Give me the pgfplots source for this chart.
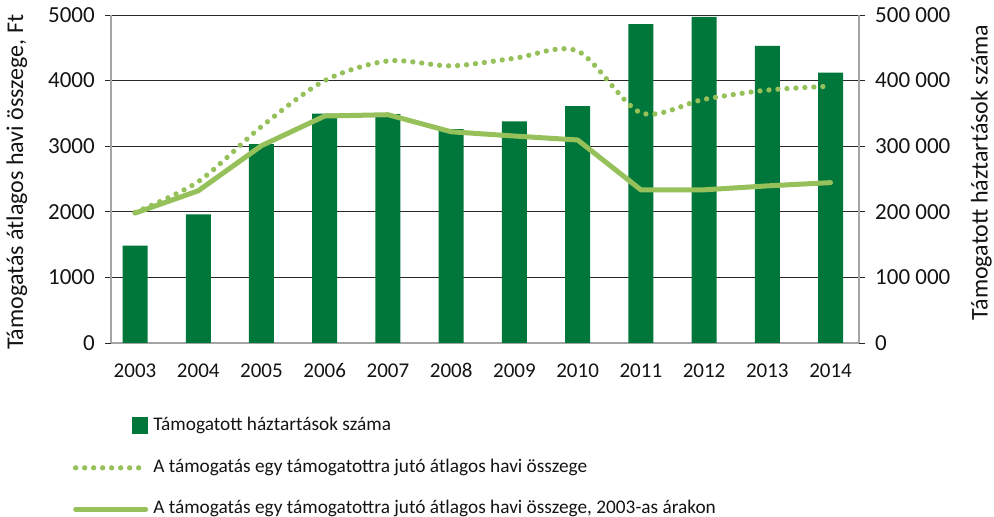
\documentclass[border=0pt]{standalone}
\usepackage{fontspec}
\setmainfont{Carlito}
\usepackage{pgfplots}
\pgfplotsset{compat=1.18}
\definecolor{barcol}{RGB}{0,119,58}
\definecolor{linecol}{RGB}{150,192,90}
\definecolor{gridcol}{RGB}{40,40,40}
\definecolor{axcol}{RGB}{165,165,165}
\definecolor{txtcol}{RGB}{20,20,20}
\begin{document}
\begin{tikzpicture}
\useasboundingbox (0,0) rectangle (994pt,517pt);
\begin{axis}[
  at={(111pt,174pt)}, anchor=south west, scale only axis,
  width=748pt, height=328pt,
  xmin=-0.38, xmax=11.45, ymin=0, ymax=500000,
  scaled y ticks=false,
  axis x line*=bottom, axis y line*=right,
  axis line style={axcol, line width=1.2pt, -},
  ymajorgrids, grid style={gridcol, line width=0.9pt},
  ytick={0,100000,200000,300000,400000,500000},
  yticklabels={0,100 000,200 000,300 000,400 000,500 000},
  xtick={0,1,2,3,4,5,6,7,8,9,10,11},
  xticklabels={2003,2004,2005,2006,2007,2008,2009,2010,2011,2012,2013,2014},
  major x tick style={draw=none},
  major y tick style={gridcol, line width=0.9pt},
  tick align=outside, major tick length=6pt,
  yticklabel style={font=\fontsize{23}{23}\selectfont, text=txtcol, anchor=west, inner sep=0pt, xshift=10pt},
  xticklabel style={font=\fontsize{21}{21}\selectfont, text=txtcol, anchor=north, inner sep=0pt, text height=13.5pt, text depth=0pt, yshift=-15pt},
  every axis y label/.style={at={(axis description cs:1.1635,0.52)}, rotate=90, anchor=center, font=\fontsize{24}{24}\selectfont, text=txtcol},
  ylabel={Támogatott háztartások száma},
]
\addplot[ybar, bar width=25pt, fill=barcol, draw=none] coordinates {
  (0,148600) (1,196000) (2,303000) (3,349500) (4,349000) (5,326000)
  (6,338000) (7,361000) (8,486000) (9,497000) (10,453000) (11,412000)};
\end{axis}
\begin{axis}[
  at={(111pt,174pt)}, anchor=south west, scale only axis,
  width=748pt, height=328pt,
  xmin=-0.38, xmax=11.45, ymin=0, ymax=5000,
  scaled y ticks=false,
  axis x line=none, axis y line*=left,
  axis line style={axcol, line width=1.2pt, -},
  ytick={0,1000,2000,3000,4000,5000},
  yticklabels={0,1000,2000,3000,4000,5000},
  major y tick style={gridcol, line width=0.9pt},
  tick align=outside, major tick length=6pt,
  yticklabel style={font=\fontsize{23}{23}\selectfont, text=txtcol, anchor=east, inner sep=0pt, xshift=-10pt},
  every axis y label/.style={at={(axis description cs:-0.1257,0.49)}, rotate=90, anchor=center, font=\fontsize{24}{24}\selectfont, text=txtcol},
  ylabel={Támogatás átlagos havi összege, Ft},
  legend image code/.code={\draw[#1] (0pt,0pt) -- (70pt,0pt);},
  legend cell align=left,
  legend style={at={(rel axis cs:-0.0508,-0.226)}, anchor=north west, draw=none, fill=none,
    inner sep=0pt, outer sep=0pt, row sep=24.5pt,
    font=\fontsize{19.3}{19.3}\selectfont, text=txtcol,
    nodes={inner xsep=5pt, inner ysep=0pt, text height=13pt, text depth=4pt}},
]
\addlegendimage{legend image code/.code={\fill[barcol] (57pt,-7pt) rectangle (72pt,9pt);}}
\addlegendentry{Támogatott háztartások száma}
\addplot[linecol, line width=5.3pt, dash pattern=on 0pt off 9pt, line cap=round, smooth, tension=0.5] coordinates {
  (0,1990) (1,2460) (2,3300) (3,4000) (4,4300) (5,4225)
  (6,4340) (7,4450) (8,3510) (9,3715) (10,3855) (11,3915)};
\addlegendentry{A támogatás egy támogatottra jutó átlagos havi összege}
\addplot[linecol, line width=5pt, line join=round, line cap=round] coordinates {
  (0,1980) (1,2320) (2,3008) (3,3460) (4,3480) (5,3220)
  (6,3155) (7,3095) (8,2335) (9,2335) (10,2395) (11,2445)};
\addlegendentry{A támogatás egy támogatottra jutó átlagos havi összege, 2003-as árakon}
\end{axis}
\end{tikzpicture}
\end{document}
